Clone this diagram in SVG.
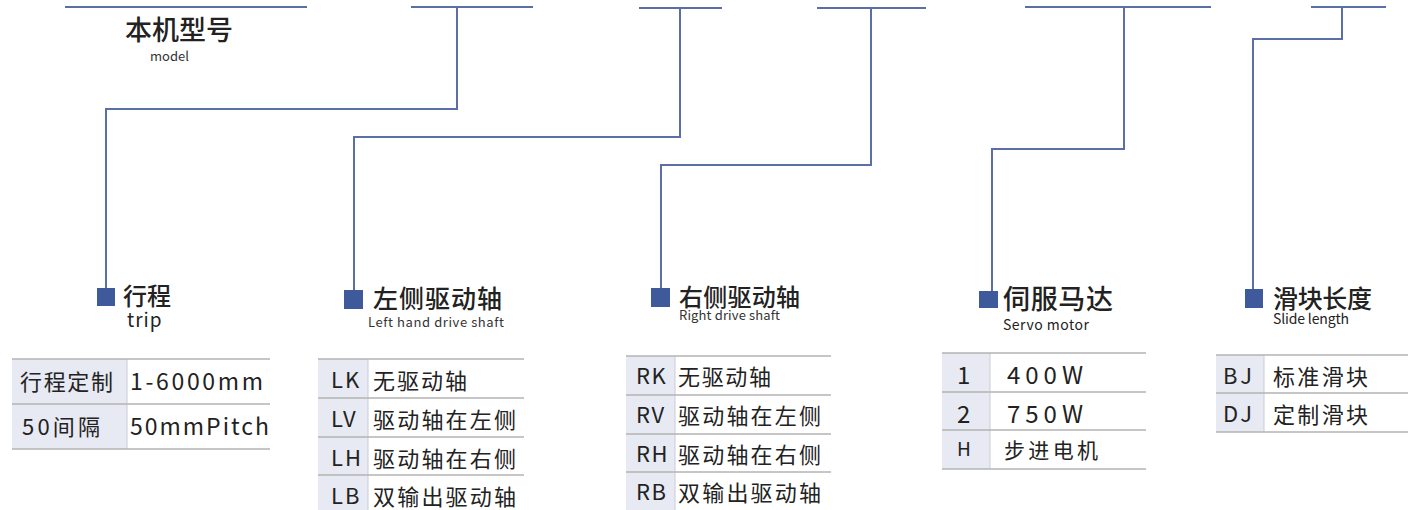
<svg xmlns="http://www.w3.org/2000/svg" width="1408" height="510" viewBox="0 0 1408 510">
<style>
.ln{stroke:#5a6fa6;stroke-width:2;fill:none}
.sq{fill:#3f5a9b}
.t{font-family:"Noto Sans CJK SC","Noto Sans",sans-serif;fill:#222}
.h{font-size:24px;font-weight:500}
.s{font-size:13px;fill:#333}
.c{font-size:22px}
.sh{fill:#e7e9f3}
.rule{stroke:#b3b3b3;stroke-width:1.5}
.vr{stroke:#c9cbd6;stroke-width:1}
</style>
<rect width="1408" height="510" fill="#ffffff"/>

<g id="connectors">
<path class="ln" d="M65,7H307"/>
<path class="ln" d="M411,7H533M457,7V109H106V289"/>
<path class="ln" d="M639,8H722M680,8V137H354V290"/>
<path class="ln" d="M817,8H926M871,8V165H661V288"/>
<path class="ln" d="M1025,7H1211M1124,7V149H992V291"/>
<path class="ln" d="M1311,7H1386M1342,7V39H1253V289"/>
</g>

<g id="model">
<text class="t" x="125" y="40" font-size="27" font-weight="500" textLength="108">本机型号</text>
<text class="t s" x="150" y="61">model</text>
</g>

<g id="trip">
<rect class="sq" x="97" y="288" width="18" height="18"/>
<text class="t h" x="123" y="305">行程</text>
<text class="t" x="127" y="327" font-size="19" fill="#333" letter-spacing="1">trip</text>
<rect class="sh" x="12" y="359" width="115" height="90"/>
<line class="vr" x1="127" y1="359" x2="127" y2="449"/>
<line class="rule" x1="12" y1="359" x2="270" y2="359"/>
<line class="rule" x1="12" y1="404" x2="270" y2="404"/>
<line class="rule" x1="12" y1="449" x2="270" y2="449"/>
<text class="t c" x="20" y="390" textLength="93">行程定制</text>
<text class="t" x="130" y="390" font-size="23" textLength="133">1-6000mm</text>
<text class="t c" x="22" y="435" textLength="78">50间隔</text>
<text class="t" x="130" y="435" font-size="23" textLength="139">50mmPitch</text>
</g>

<g id="left-drive">
<rect class="sq" x="344" y="290" width="19" height="19"/>
<text class="t" x="373" y="308" font-size="25" font-weight="500" textLength="129">左侧驱动轴</text>
<text class="t s" x="368" y="327" textLength="136">Left hand drive shaft</text>
<rect class="sh" x="318" y="359" width="50" height="151"/>
<line class="vr" x1="368" y1="359" x2="368" y2="510"/>
<line class="rule" x1="318" y1="359" x2="524" y2="359"/>
<line class="rule" x1="318" y1="398" x2="524" y2="398"/>
<line class="rule" x1="318" y1="437" x2="524" y2="437"/>
<line class="rule" x1="318" y1="475" x2="524" y2="475"/>
<text class="t c" x="331" y="388" letter-spacing="2">LK</text>
<text class="t c" x="331" y="427" letter-spacing="2">LV</text>
<text class="t c" x="331" y="466" letter-spacing="2">LH</text>
<text class="t c" x="331" y="504" letter-spacing="2">LB</text>
<text class="t c" x="373" y="389" textLength="94">无驱动轴</text>
<text class="t c" x="373" y="428" textLength="143">驱动轴在左侧</text>
<text class="t c" x="373" y="467" textLength="143">驱动轴在右侧</text>
<text class="t c" x="373" y="505" textLength="143">双输出驱动轴</text>
</g>

<g id="right-drive">
<rect class="sq" x="651" y="288" width="19" height="19"/>
<text class="t" x="679" y="306" font-size="24" font-weight="500" textLength="121">右侧驱动轴</text>
<text class="t s" x="679" y="320" textLength="101">Right drive shaft</text>
<rect class="sh" x="626" y="356" width="49" height="154"/>
<line class="vr" x1="675" y1="356" x2="675" y2="510"/>
<line class="rule" x1="626" y1="356" x2="831" y2="356"/>
<line class="rule" x1="626" y1="395" x2="831" y2="395"/>
<line class="rule" x1="626" y1="434" x2="831" y2="434"/>
<line class="rule" x1="626" y1="472" x2="831" y2="472"/>
<text class="t c" x="636" y="384" letter-spacing="1.5">RK</text>
<text class="t c" x="636" y="423" letter-spacing="1.5">RV</text>
<text class="t c" x="636" y="462" letter-spacing="1.5">RH</text>
<text class="t c" x="636" y="500" letter-spacing="1.5">RB</text>
<text class="t c" x="678" y="385" textLength="93">无驱动轴</text>
<text class="t c" x="678" y="424" textLength="143">驱动轴在左侧</text>
<text class="t c" x="678" y="463" textLength="143">驱动轴在右侧</text>
<text class="t c" x="678" y="501" textLength="143">双输出驱动轴</text>
</g>

<g id="servo-motor">
<rect class="sq" x="979" y="291" width="19" height="17"/>
<text class="t" x="1003" y="309" font-size="27" font-weight="500" textLength="110">伺服马达</text>
<text class="t" x="1003" y="330" font-size="14" fill="#333" textLength="86">Servo motor</text>
<rect class="sh" x="942" y="353" width="48" height="116"/>
<line class="vr" x1="990" y1="353" x2="990" y2="469"/>
<line class="rule" x1="942" y1="353" x2="1146" y2="353"/>
<line class="rule" x1="942" y1="392" x2="1146" y2="392"/>
<line class="rule" x1="942" y1="430" x2="1146" y2="430"/>
<line class="rule" x1="942" y1="469" x2="1146" y2="469"/>
<text class="t" x="957" y="384" font-size="24">1</text>
<text class="t" x="1007" y="384" font-size="24" textLength="76">400W</text>
<text class="t" x="957" y="423" font-size="24">2</text>
<text class="t" x="1007" y="423" font-size="24" textLength="76">750W</text>
<text class="t" x="957" y="456" font-size="19">H</text>
<text class="t" x="1004" y="458" font-size="21" textLength="94">步进电机</text>
</g>

<g id="slide-length">
<rect class="sq" x="1245" y="289" width="18" height="19"/>
<text class="t" x="1273" y="308" font-size="25" font-weight="500" textLength="99">滑块长度</text>
<text class="t" x="1273" y="324" font-size="14" fill="#333" textLength="76">Slide length</text>
<rect class="sh" x="1216" y="355" width="48" height="77"/>
<line class="vr" x1="1264" y1="355" x2="1264" y2="432"/>
<line class="rule" x1="1216" y1="355" x2="1408" y2="355"/>
<line class="rule" x1="1216" y1="393" x2="1408" y2="393"/>
<line class="rule" x1="1216" y1="432" x2="1408" y2="432"/>
<text class="t c" x="1223" y="384" textLength="29">BJ</text>
<text class="t c" x="1273" y="385" textLength="95">标准滑块</text>
<text class="t c" x="1223" y="422" textLength="29">DJ</text>
<text class="t c" x="1273" y="423" textLength="95">定制滑块</text>
</g>
</svg>
